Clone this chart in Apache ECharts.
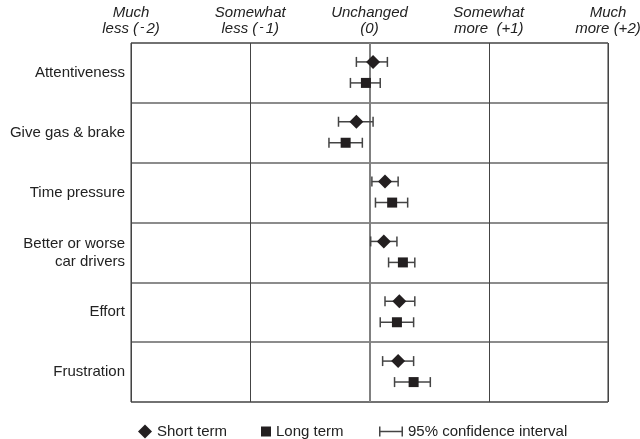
<!DOCTYPE html>
<html>
<head>
<meta charset="utf-8">
<script src="https://cdn.jsdelivr.net/npm/echarts@6/dist/echarts.min.js"></script>
<style>
  html, body { margin: 0; padding: 0; background: #fff; }
  #chart { width: 640px; height: 439px; }
</style>
</head>
<body>
<div id="chart"></div>
<script>
// rows, top to bottom
const categories = ['Attentiveness', 'Give gas & brake', 'Time pressure', 'Better or worse\ncar drivers', 'Effort', 'Frustration'];

// short term: mean and 95% CI
const shortMean = [0.03, -0.11, 0.13, 0.12, 0.25, 0.24];
const shortLow = [-0.11, -0.26, 0.02, 0.01, 0.13, 0.11];
const shortHigh = [0.15, 0.03, 0.24, 0.23, 0.38, 0.37];

// long term: mean and 95% CI
const longMean = [-0.03, -0.20, 0.19, 0.28, 0.23, 0.37];
const longLow = [-0.16, -0.34, 0.05, 0.16, 0.09, 0.21];
const longHigh = [0.09, -0.06, 0.32, 0.38, 0.37, 0.51];

// scale labels on top ({m|-} is the raised minus)
const tickValues = [-2, -1, 0, 1, 2];
const tickLabels = ['Much\nless ({m|-}2)', 'Somewhat\nless ({m|-}1)', 'Unchanged\n(0)', 'Somewhat\nmore  (+1)', 'Much\nmore (+2)'];

const ink = '#231f20';
const ciColor = '#444';
const fontFamily = '"Liberation Sans", Arial, sans-serif';

const chart = echarts.init(document.getElementById('chart'), null, { renderer: 'canvas' });

// error bar with caps, shifted inside the row
function ciRenderer(offset) {
  return function (params, api) {
    const row = api.value(0);
    const lo = api.coord([api.value(1), row]);
    const hi = api.coord([api.value(2), row]);
    const y = lo[1] + offset;
    const cap = 5;
    const style = { stroke: ciColor, lineWidth: 1.5 };
    return {
      type: 'group',
      children: [
        { type: 'line', shape: { x1: lo[0], y1: y, x2: hi[0], y2: y }, style: style },
        { type: 'line', shape: { x1: lo[0], y1: y - cap, x2: lo[0], y2: y + cap }, style: style },
        { type: 'line', shape: { x1: hi[0], y1: y - cap, x2: hi[0], y2: y + cap }, style: style }
      ]
    };
  };
}

const shortCI = categories.map((c, i) => [i, shortLow[i], shortHigh[i]]);
const longCI = categories.map((c, i) => [i, longLow[i], longHigh[i]]);
const shortPts = categories.map((c, i) => [shortMean[i], i]);
const longPts = categories.map((c, i) => [longMean[i], i]);

const legendText = { fontSize: 15, color: '#222', fontFamily: fontFamily };

chart.setOption({
  animation: false,
  grid: {
    left: 131,
    right: 32,
    top: 43,
    bottom: 37,
    outerBoundsMode: 'none',
    containLabel: false,
    show: true,
    borderColor: '#333',
    borderWidth: 1
  },
  legend: [
    {
      data: [{ name: 'Short term', icon: 'diamond' }],
      left: 133, top: 419,
      itemWidth: 14, itemHeight: 14,
      textStyle: legendText
    },
    {
      data: [{ name: 'Long term', icon: 'rect' }],
      left: 256, top: 419,
      itemWidth: 10, itemHeight: 10,
      textStyle: legendText
    },
    {
      data: [{ name: '95% confidence interval', icon: 'path://M0,0h1.5v10h-1.5z M1.5,4.3h21v1.4h-21z M22.5,0h1.5v10h-1.5z' }],
      left: 374, top: 419,
      itemWidth: 24, itemHeight: 10,
      textStyle: legendText
    }
  ],
  xAxis: {
    type: 'value',
    position: 'top',
    min: -2,
    max: 2,
    interval: 1,
    axisLine: { show: false },
    axisTick: { show: false },
    splitLine: { show: true, lineStyle: { color: '#444', width: 1 } },
    axisLabel: {
      margin: 6,
      fontSize: 15,
      lineHeight: 16,
      fontStyle: 'italic',
      color: '#222',
      fontFamily: fontFamily,
      formatter: function (v) {
        const k = tickValues.indexOf(v);
        return k >= 0 ? tickLabels[k] : '';
      },
      rich: {
        m: {
          fontSize: 13,
          fontStyle: 'italic',
          color: '#222',
          fontFamily: fontFamily,
          lineHeight: 16,
          padding: [0, 2, 4, 2]
        }
      }
    }
  },
  yAxis: {
    type: 'category',
    data: categories,
    inverse: true,
    axisLine: { show: false },
    axisTick: { show: false },
    splitLine: { show: true, lineStyle: { color: '#666', width: 1.5 } },
    axisLabel: {
      margin: 6,
      fontSize: 15,
      lineHeight: 18,
      color: '#222',
      align: 'right',
      fontFamily: fontFamily
    }
  },
  series: [
    {
      name: '95% confidence interval',
      type: 'custom',
      renderItem: ciRenderer(-11),
      itemStyle: { color: ciColor },
      encode: { x: [1, 2], y: 0 },
      data: shortCI,
      z: 2
    },
    {
      name: '95% confidence interval',
      type: 'custom',
      renderItem: ciRenderer(10),
      itemStyle: { color: ciColor },
      encode: { x: [1, 2], y: 0 },
      data: longCI,
      z: 2
    },
    {
      name: 'Short term',
      type: 'scatter',
      symbol: 'diamond',
      symbolSize: 14,
      symbolOffset: [0, -11],
      itemStyle: { color: ink, opacity: 1 },
      data: shortPts,
      z: 4,
      markLine: {
        silent: true,
        symbol: 'none',
        label: { show: false },
        lineStyle: { color: '#808080', width: 2, type: 'solid' },
        data: [{ xAxis: 0 }],
        z: 1
      }
    },
    {
      name: 'Long term',
      type: 'scatter',
      symbol: 'rect',
      symbolSize: 10,
      symbolOffset: [0, 10],
      itemStyle: { color: ink, opacity: 1 },
      data: longPts,
      z: 4
    }
  ]
});
</script>
</body>
</html>
